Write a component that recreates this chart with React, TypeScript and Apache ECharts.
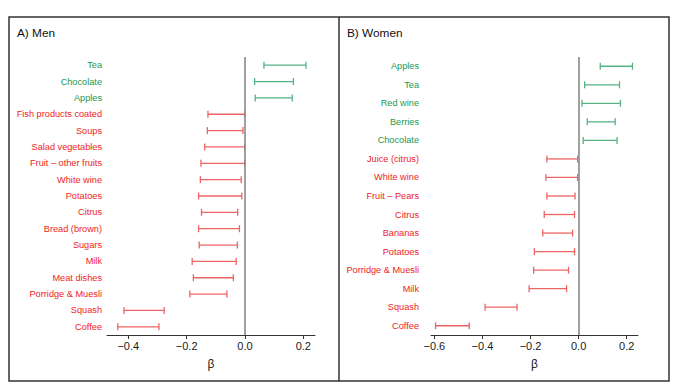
import React, { useEffect, useRef } from "react";
import * as echarts from "echarts";

const menLabels = ["Tea", "Chocolate", "Apples", "Fish products coated", "Soups", "Salad vegetables", "Fruit – other fruits", "White wine", "Potatoes", "Citrus", "Bread (brown)", "Sugars", "Milk", "Meat dishes", "Porridge & Muesli", "Squash", "Coffee"];
const menLow = [0.065, 0.033, 0.035, -0.127, -0.129, -0.138, -0.151, -0.153, -0.159, -0.149, -0.159, -0.157, -0.181, -0.177, -0.189, -0.415, -0.436];
const menHigh = [0.209, 0.166, 0.162, -0.001, -0.007, -0.001, -0.001, -0.013, -0.011, -0.025, -0.019, -0.026, -0.030, -0.040, -0.062, -0.277, -0.295];

const womenLabels = ["Apples", "Tea", "Red wine", "Berries", "Chocolate", "Juice (citrus)", "White wine", "Fruit – Pears", "Citrus", "Bananas", "Potatoes", "Porridge & Muesli", "Milk", "Squash", "Coffee"];
const womenLow = [0.090, 0.025, 0.014, 0.036, 0.019, -0.132, -0.136, -0.132, -0.143, -0.149, -0.184, -0.187, -0.206, -0.389, -0.595];
const womenHigh = [0.224, 0.170, 0.174, 0.152, 0.160, -0.004, -0.004, -0.015, -0.017, -0.025, -0.017, -0.042, -0.050, -0.256, -0.455];

const xTicks = [-0.6, -0.4, -0.2, 0, 0.2];

const FONT = "Liberation Sans";
const GREEN_TEXT = "#22984f";
const RED_TEXT = "#f01c1c";
const GREEN_LINE = "#55b386";
const RED_LINE = "#ee6464";

const isPos = (lo: number, hi: number) => lo + hi > 0;

function makeAxes(labels: string[], low: number[], high: number[], idx: number, min: number, max: number, ticks: number[], labelMargin: number) {
  const xAxis = {
    type: "value",
    gridIndex: idx,
    min,
    max,
    axisLine: { show: true, lineStyle: { color: "#333", width: 1 } },
    axisTick: { show: true, length: 4, lineStyle: { color: "#333" }, customValues: ticks },
    axisLabel: {
      customValues: ticks,
      margin: 5,
      fontFamily: FONT,
      fontSize: 11,
      color: "#1a1a1a",
      formatter: (v: number) => (v < 0 ? "\u2212" : "") + Math.abs(v).toFixed(1),
    },
    splitLine: { show: false },
    name: "β",
    nameLocation: "middle",
    nameGap: 23,
    nameTextStyle: { fontFamily: FONT, fontSize: 12, color: "#1a1a1a" },
  };
  const yAxis = {
    type: "category",
    gridIndex: idx,
    inverse: true,
    data: labels.map((l, i) => ({
      value: l,
      textStyle: { color: isPos(low[i], high[i]) ? GREEN_TEXT : RED_TEXT },
    })),
    axisLine: { show: false },
    axisTick: { show: false },
    splitLine: { show: false },
    axisLabel: { fontFamily: FONT, fontSize: 9.2, margin: labelMargin, interval: 0 },
  };
  return { xAxis, yAxis };
}

function errSeries(labels: string[], low: number[], high: number[], idx: number) {
  return {
    type: "custom",
    xAxisIndex: idx,
    yAxisIndex: idx,
    encode: { x: [0, 1], y: 2 },
    data: labels.map((_, i) => [low[i], high[i], i]),
    renderItem: (params: any, api: any) => {
      const lo = api.value(0);
      const hi = api.value(1);
      const yi = api.value(2);
      const p1 = api.coord([lo, yi]);
      const p2 = api.coord([hi, yi]);
      const c = isPos(lo, hi) ? GREEN_LINE : RED_LINE;
      const st = { stroke: c, lineWidth: 1.3 };
      const h = 3.5;
      return {
        type: "group",
        children: [
          { type: "line", shape: { x1: p1[0], y1: p1[1], x2: p2[0], y2: p2[1] }, style: st },
          { type: "line", shape: { x1: p1[0], y1: p1[1] - h, x2: p1[0], y2: p1[1] + h }, style: st },
          { type: "line", shape: { x1: p2[0], y1: p2[1] - h, x2: p2[0], y2: p2[1] + h }, style: st },
        ],
      };
    },
    z: 3,
  };
}

function zeroLine(idx: number) {
  return {
    type: "line",
    xAxisIndex: idx,
    yAxisIndex: idx,
    data: [],
    markLine: {
      silent: true,
      symbol: ["none", "none"],
      label: { show: false },
      lineStyle: { color: "#8a8a8a", width: 1.6, type: "solid" },
      data: [{ xAxis: 0 }],
    },
    z: 1,
  };
}

export default function App() {
  const ref = useRef<HTMLDivElement>(null);
  useEffect(() => {
    if (!ref.current) return;
    const chart = echarts.init(ref.current, undefined, { renderer: "svg" });
    const a = makeAxes(menLabels, menLow, menHigh, 0, -0.473, 0.24, xTicks.filter((t) => t >= -0.4), 5);
    const b = makeAxes(womenLabels, womenLow, womenHigh, 1, -0.614, 0.247, xTicks, 12);
    chart.setOption({
      animation: false,
      backgroundColor: "#fff",
      grid: [
        { left: 107, width: 208, top: 57, height: 278 },
        { left: 431, width: 207, top: 57, height: 278 },
      ],
      xAxis: [a.xAxis, b.xAxis],
      yAxis: [a.yAxis, b.yAxis],
      series: [
        zeroLine(0),
        zeroLine(1),
        errSeries(menLabels, menLow, menHigh, 0),
        errSeries(womenLabels, womenLow, womenHigh, 1),
      ],
      graphic: [
        { type: "rect", shape: { x: 9, y: 17, width: 660, height: 364 }, style: { fill: "none", stroke: "#333", lineWidth: 1.5 } },
        { type: "line", shape: { x1: 339, y1: 17, x2: 339, y2: 381 }, style: { stroke: "#333", lineWidth: 1.5 } },
        { type: "text", x: 17, y: 33, style: { text: "A) Men", font: `11.8px "${FONT}"`, fill: "#111", textVerticalAlign: "middle" } },
        { type: "text", x: 347, y: 33, style: { text: "B) Women", font: `11.8px "${FONT}"`, fill: "#111", textVerticalAlign: "middle" } },
      ],
    });
    return () => chart.dispose();
  }, []);
  return <div ref={ref} style={{ position: "fixed", left: 0, top: 0, width: 690, height: 391 }} />;
}
